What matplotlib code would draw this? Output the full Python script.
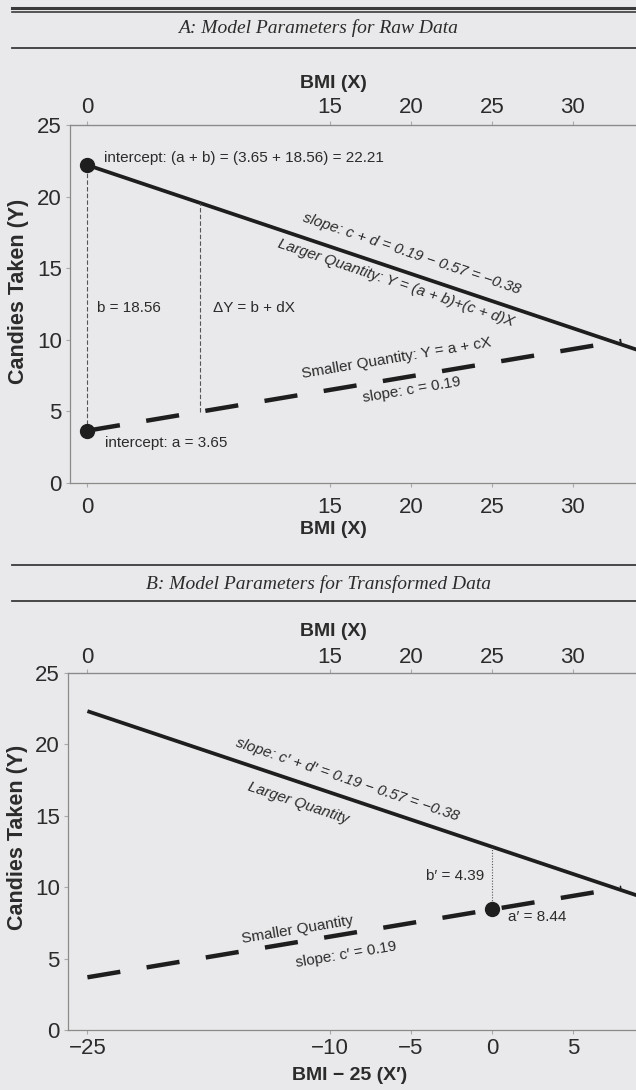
import numpy as np
import matplotlib
matplotlib.use("Agg")
import matplotlib.pyplot as plt
from matplotlib.lines import Line2D

# model parameters (raw BMI)
a = 3.65
b = 18.56
c = 0.19
d = -0.57
# model parameters (BMI centred at 25)
a_prime = 8.44
b_prime = 4.39
center = 25

bmi_ticks = [0, 15, 20, 25, 30]
xprime_ticks = [-25, -10, -5, 0, 5]
y_ticks = [0, 5, 10, 15, 20, 25]

x_raw_solid = [0, 36]
x_raw_dashed = [0, 33]
x_cen_solid = [-25, 11]
x_cen_dashed = [-25, 8]
x_delta = 7  # where the Delta-Y guide is drawn

plt.rcParams['font.family'] = ['Liberation Sans', 'DejaVu Sans']
BG = '#e9e9eb'
INK = '#1e1e1e'
TXT = '#2b2b2b'
SPINE = '#8a8a8a'

W, H = 636, 1090
fig = plt.figure(figsize=(W / 100, H / 100), dpi=100, facecolor=BG)


def fy(py):
    return 1 - py / H


def fx(px):
    return px / W


def rule(py, lw, color='#3a3a3a'):
    fig.add_artist(Line2D([fx(12), 1], [fy(py), fy(py)], lw=lw, color=color,
                          transform=fig.transFigure))


def along(ax, x, y, s, slope, **kw):
    ax.text(x, y, s, rotation=np.degrees(np.arctan(slope)),
            transform_rotates_text=True, rotation_mode='anchor',
            ha='center', va='center', fontsize=11, color=TXT, **kw)


def style_axes(ax):
    ax.set_facecolor('none')
    ax.set_ylim(0, 25)
    ax.set_yticks(y_ticks)
    for s in ['left', 'bottom', 'top']:
        ax.spines[s].set_color(SPINE)
        ax.spines[s].set_linewidth(0.9)
    ax.spines['right'].set_visible(False)
    ax.tick_params(axis='both', direction='out', length=3, width=0.8,
                   color='#aaaaaa', labelsize=16, labelcolor=TXT)
    ax.tick_params(axis='y', pad=3)
    ax.tick_params(axis='x', pad=7)
    ax.set_ylabel('Candies Taken (Y)', fontsize=15.5, fontweight='bold', color=TXT)


def top_axis(ax, pad, **kw):
    top = ax.secondary_xaxis('top', **kw)
    top.set_xticks(bmi_ticks)
    top.spines['top'].set_color(SPINE)
    top.tick_params(direction='out', length=3, width=0.8, color='#aaaaaa',
                    labelsize=16, labelcolor=TXT, pad=pad)
    return top


# ---------------- panel A ----------------
rule(8, 2.2)
rule(12, 1.2)
fig.text(0.5, fy(28), 'A: Model Parameters for Raw Data', family='Liberation Serif',
         style='italic', fontsize=14, ha='center', va='center', color=TXT)
rule(48, 1.3)

axA = fig.add_axes([fx(70), fy(483), fx(636 - 70), (483 - 125) / H])
style_axes(axA)
axA.set_xlim(-1.05, 33.9)
axA.set_xticks(bmi_ticks)
axA.yaxis.set_label_coords(-0.073, 0.534)

xs = np.array(x_raw_solid)
axA.plot(xs, (a + b) + (c + d) * xs, color=INK, lw=2.7, solid_capstyle='butt')
xd = np.array(x_raw_dashed)
axA.plot(xd, a + c * xd, color=INK, lw=3.2, dashes=(7.5, 6), dash_capstyle='butt')
axA.plot([0, 0], [a, a + b], color='#555555', lw=0.8, dashes=(4, 2))
axA.plot([x_delta, x_delta], [a + c * x_delta, a + b + (c + d) * x_delta],
         color='#555555', lw=0.8, dashes=(4, 2))
axA.plot([0, 0], [a, a + b], ls='none', marker='o', ms=10, color=INK)

axA.text(1.05, 22.7, 'intercept: (a + b) = (3.65 + 18.56) = 22.21',
         fontsize=11, color=TXT, ha='left', va='center')
axA.text(1.1, 2.8, 'intercept: a = 3.65', fontsize=11, color=TXT, ha='left', va='center')
axA.text(0.6, 12.2, 'b = 18.56', fontsize=11, color=TXT, ha='left', va='center')
axA.text(7.8, 12.2, '\u0394Y = b + dX', fontsize=11, color=TXT, ha='left', va='center')
along(axA, 20.06, 16.0, 'slope: c + d = 0.19 \u2212 0.57 = \u22120.38', c + d, style='italic')
along(axA, 19.1, 13.97, 'Larger Quantity: Y = (a + b)+(c + d)X', c + d, style='italic')
along(axA, 19.1, 8.73, 'Smaller Quantity: Y = a + cX', c)
along(axA, 20.06, 6.49, 'slope: c = 0.19', c)

top_axis(axA, pad=2)

fig.text(fx(333), fy(84), 'BMI (X)', fontsize=14, fontweight='bold', ha='center',
         va='center', color=TXT)
fig.text(fx(333), fy(530), 'BMI (X)', fontsize=14, fontweight='bold', ha='center',
         va='center', color=TXT)

# ---------------- panel B ----------------
rule(565, 1.3)
fig.text(0.5, fy(584), 'B: Model Parameters for Transformed Data', family='Liberation Serif',
         style='italic', fontsize=14, ha='center', va='center', color=TXT)
rule(601, 1.3)

axB = fig.add_axes([fx(68), fy(1030), fx(636 - 68), (1030 - 673) / H])
style_axes(axB)
axB.set_xlim(-26.2, 8.9)
axB.set_xticks(xprime_ticks)
axB.set_xticklabels([str(t).replace('-', '\u2212') for t in xprime_ticks])
axB.tick_params(axis='x', pad=3)
axB.yaxis.set_label_coords(-0.07, 0.54)

xs = np.array(x_cen_solid)
axB.plot(xs, (a_prime + b_prime) + (c + d) * xs, color=INK, lw=2.7, solid_capstyle='butt')
xd = np.array(x_cen_dashed)
axB.plot(xd, a_prime + c * xd, color=INK, lw=3.2, dashes=(7.5, 6), dash_capstyle='butt')
axB.plot([0, 0], [a_prime, a_prime + b_prime], color='#555555', lw=0.8, ls=(0, (1, 1.5)))
axB.plot([0], [a_prime], ls='none', marker='o', ms=10, color=INK)

axB.text(-0.5, 10.78, "b\u2032 = 4.39", fontsize=11, color=TXT, ha='right', va='center')
axB.text(1.0, 7.9, "a\u2032 = 8.44", fontsize=11, color=TXT, ha='left', va='center')
along(axB, -8.95, 17.5, "slope: c\u2032 + d\u2032 = 0.19 \u2212 0.57 = \u22120.38", c + d,
      style='italic')
along(axB, -12.0, 15.9, 'Larger Quantity', c + d, style='italic')
along(axB, -12.04, 7.0, 'Smaller Quantity', c)
along(axB, -9.0, 5.25, "slope: c\u2032 = 0.19", c)

top_axis(axB, pad=0.5, functions=(lambda x: x + center, lambda x: x - center))

fig.text(fx(333), fy(632), 'BMI (X)', fontsize=14, fontweight='bold', ha='center',
         va='center', color=TXT)
fig.text(fx(350), fy(1075), 'BMI \u2212 25 (X\u2032)', fontsize=14, fontweight='bold',
         ha='center', va='center', color=TXT)

fig.savefig('out.png', dpi=100, facecolor=BG)
